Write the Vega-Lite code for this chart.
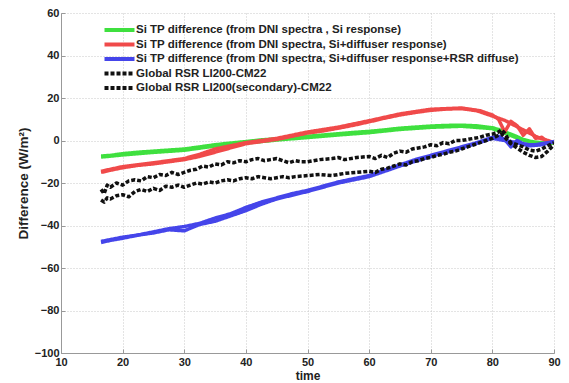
{
  "$schema": "https://vega.github.io/schema/vega-lite/v6.json",
  "width": 493,
  "height": 340,
  "autosize": {"type": "none"},
  "padding": {"left": 61, "top": 13, "right": 15, "bottom": 30},
  "background": "white",
  "config": {
    "view": {"stroke": null},
    "font": "Liberation Sans",
    "axis": {
      "labelFont": "Liberation Sans", "labelFontWeight": "bold", "labelFontSize": 11, "labelColor": "#222",
      "titleFont": "Liberation Sans", "titleFontWeight": "bold", "titleFontSize": 12, "titleColor": "#222",
      "domainColor": "#999", "tickColor": "#999", "tickSize": -4,
      "gridColor": "#c8c8c8", "gridDash": [1, 2], "gridWidth": 1
    },
    "legend": {
      "labelFont": "Liberation Sans", "labelFontWeight": "bold", "labelFontSize": 11.5, "labelColor": "#222"
    }
  },
  "data": {
    "values": [
      {"s":"a","b":1,"x":16.5,"y":-7.3},{"s":"a","b":1,"x":18,"y":-7},{"s":"a","b":1,"x":20,"y":-6.2},{"s":"a","b":1,"x":22.5,"y":-5.5},{"s":"a","b":1,"x":25,"y":-5},{"s":"a","b":1,"x":27.5,"y":-4.5},{"s":"a","b":1,"x":30,"y":-4},{"s":"a","b":1,"x":32.5,"y":-3},{"s":"a","b":1,"x":35,"y":-2},{"s":"a","b":1,"x":37.5,"y":-1.2},{"s":"a","b":1,"x":40,"y":-0.5},{"s":"a","b":1,"x":42.5,"y":0.3},{"s":"a","b":1,"x":45,"y":0.8},{"s":"a","b":1,"x":47.5,"y":1.5},{"s":"a","b":1,"x":50,"y":2},{"s":"a","b":1,"x":52.5,"y":2.6},{"s":"a","b":1,"x":55,"y":3.2},{"s":"a","b":1,"x":57.5,"y":3.8},{"s":"a","b":1,"x":60,"y":4.3},{"s":"a","b":1,"x":62.5,"y":5},{"s":"a","b":1,"x":65,"y":5.8},{"s":"a","b":1,"x":67.5,"y":6.3},{"s":"a","b":1,"x":70,"y":6.8},{"s":"a","b":1,"x":72.5,"y":7.1},{"s":"a","b":1,"x":75,"y":7.2},{"s":"a","b":1,"x":77.5,"y":6.9},{"s":"a","b":1,"x":80,"y":6},{"s":"a","b":1,"x":81,"y":5.2},{"s":"a","b":1,"x":82,"y":4},{"s":"a","b":1,"x":83,"y":3},{"s":"a","b":1,"x":84,"y":1.8},{"s":"a","b":1,"x":85,"y":0.5},{"s":"a","b":1,"x":86,"y":-0.3},{"s":"a","b":1,"x":87,"y":-0.8},{"s":"a","b":1,"x":88,"y":-1},{"s":"a","b":1,"x":89,"y":-1.2},{"s":"a","b":1,"x":90,"y":-1.2},
      {"s":"a","b":2,"x":16.5,"y":-7.8},{"s":"a","b":2,"x":20,"y":-6.8},{"s":"a","b":2,"x":25,"y":-5.6},{"s":"a","b":2,"x":30,"y":-4.6},{"s":"a","b":2,"x":35,"y":-2.6},{"s":"a","b":2,"x":40,"y":-1.2},{"s":"a","b":2,"x":45,"y":0.2},{"s":"a","b":2,"x":50,"y":1.4},{"s":"a","b":2,"x":55,"y":2.6},{"s":"a","b":2,"x":60,"y":3.7},{"s":"a","b":2,"x":65,"y":5.2},{"s":"a","b":2,"x":70,"y":6.2},{"s":"a","b":2,"x":75,"y":6.7},{"s":"a","b":2,"x":80,"y":5.6},{"s":"a","b":2,"x":82,"y":3.5},{"s":"a","b":2,"x":84,"y":1.2},{"s":"a","b":2,"x":86,"y":-0.6},{"s":"a","b":2,"x":88,"y":-1.3},{"s":"a","b":2,"x":90,"y":-1.2},
      {"s":"b","b":1,"x":16.5,"y":-15},{"s":"b","b":1,"x":18,"y":-14},{"s":"b","b":1,"x":20,"y":-12.8},{"s":"b","b":1,"x":22.5,"y":-11.7},{"s":"b","b":1,"x":25,"y":-11},{"s":"b","b":1,"x":27.5,"y":-10},{"s":"b","b":1,"x":30,"y":-9},{"s":"b","b":1,"x":32.5,"y":-7.5},{"s":"b","b":1,"x":35,"y":-5.5},{"s":"b","b":1,"x":37.5,"y":-3.5},{"s":"b","b":1,"x":40,"y":-1.5},{"s":"b","b":1,"x":42.5,"y":-0.5},{"s":"b","b":1,"x":45,"y":0.5},{"s":"b","b":1,"x":47.5,"y":2},{"s":"b","b":1,"x":50,"y":3.5},{"s":"b","b":1,"x":52.5,"y":4.5},{"s":"b","b":1,"x":55,"y":5.8},{"s":"b","b":1,"x":57.5,"y":7.2},{"s":"b","b":1,"x":60,"y":8.8},{"s":"b","b":1,"x":62.5,"y":10.5},{"s":"b","b":1,"x":65,"y":12},{"s":"b","b":1,"x":67.5,"y":13.2},{"s":"b","b":1,"x":70,"y":14.2},{"s":"b","b":1,"x":72.5,"y":14.8},{"s":"b","b":1,"x":75,"y":15},{"s":"b","b":1,"x":77.5,"y":14},{"s":"b","b":1,"x":80,"y":11.5},{"s":"b","b":1,"x":81,"y":10.5},{"s":"b","b":1,"x":82,"y":9.5},{"s":"b","b":1,"x":83,"y":8},{"s":"b","b":1,"x":84,"y":6.5},{"s":"b","b":1,"x":85,"y":5},{"s":"b","b":1,"x":86,"y":3.5},{"s":"b","b":1,"x":87,"y":2},{"s":"b","b":1,"x":88,"y":0.8},{"s":"b","b":1,"x":89,"y":0},{"s":"b","b":1,"x":90,"y":-1},
      {"s":"b","b":2,"x":16.5,"y":-14.5},{"s":"b","b":2,"x":20,"y":-12.3},{"s":"b","b":2,"x":25,"y":-10.5},{"s":"b","b":2,"x":30,"y":-8.5},{"s":"b","b":2,"x":32.5,"y":-6.5},{"s":"b","b":2,"x":35,"y":-4},{"s":"b","b":2,"x":37.5,"y":-2.5},{"s":"b","b":2,"x":40,"y":-1},{"s":"b","b":2,"x":45,"y":1},{"s":"b","b":2,"x":50,"y":4},{"s":"b","b":2,"x":55,"y":6.3},{"s":"b","b":2,"x":60,"y":9.3},{"s":"b","b":2,"x":65,"y":12.5},{"s":"b","b":2,"x":70,"y":14.7},{"s":"b","b":2,"x":75,"y":15.3},{"s":"b","b":2,"x":78,"y":14},{"s":"b","b":2,"x":80,"y":12},{"s":"b","b":2,"x":81,"y":10},{"s":"b","b":2,"x":82,"y":4},{"s":"b","b":2,"x":83,"y":9},{"s":"b","b":2,"x":84,"y":7},{"s":"b","b":2,"x":85,"y":2.5},{"s":"b","b":2,"x":86,"y":5.5},{"s":"b","b":2,"x":87,"y":1},{"s":"b","b":2,"x":88,"y":1.5},{"s":"b","b":2,"x":89,"y":-0.5},{"s":"b","b":2,"x":90,"y":-1},
      {"s":"c","b":1,"x":16.5,"y":-48},{"s":"c","b":1,"x":18,"y":-47},{"s":"c","b":1,"x":20,"y":-46},{"s":"c","b":1,"x":22.5,"y":-44.5},{"s":"c","b":1,"x":25,"y":-43},{"s":"c","b":1,"x":27.5,"y":-41.5},{"s":"c","b":1,"x":30,"y":-40.5},{"s":"c","b":1,"x":32.5,"y":-39},{"s":"c","b":1,"x":35,"y":-36.5},{"s":"c","b":1,"x":37.5,"y":-34.5},{"s":"c","b":1,"x":40,"y":-31.5},{"s":"c","b":1,"x":42.5,"y":-29},{"s":"c","b":1,"x":45,"y":-27},{"s":"c","b":1,"x":47.5,"y":-25},{"s":"c","b":1,"x":50,"y":-23.5},{"s":"c","b":1,"x":52.5,"y":-21.5},{"s":"c","b":1,"x":55,"y":-19.5},{"s":"c","b":1,"x":57.5,"y":-18},{"s":"c","b":1,"x":60,"y":-16.5},{"s":"c","b":1,"x":62.5,"y":-14},{"s":"c","b":1,"x":65,"y":-11.5},{"s":"c","b":1,"x":67.5,"y":-9},{"s":"c","b":1,"x":70,"y":-7},{"s":"c","b":1,"x":72.5,"y":-5},{"s":"c","b":1,"x":75,"y":-3},{"s":"c","b":1,"x":77.5,"y":-1},{"s":"c","b":1,"x":80,"y":1.5},{"s":"c","b":1,"x":81,"y":2},{"s":"c","b":1,"x":82,"y":0.5},{"s":"c","b":1,"x":83,"y":-3},{"s":"c","b":1,"x":84,"y":0},{"s":"c","b":1,"x":85,"y":-1.5},{"s":"c","b":1,"x":86,"y":-2},{"s":"c","b":1,"x":87,"y":-2},{"s":"c","b":1,"x":88,"y":-1.5},{"s":"c","b":1,"x":89,"y":-1},{"s":"c","b":1,"x":90,"y":-0.5},
      {"s":"c","b":2,"x":16.5,"y":-47.5},{"s":"c","b":2,"x":20,"y":-45.5},{"s":"c","b":2,"x":25,"y":-43.5},{"s":"c","b":2,"x":27.5,"y":-42},{"s":"c","b":2,"x":30,"y":-42.5},{"s":"c","b":2,"x":32.5,"y":-39.5},{"s":"c","b":2,"x":35,"y":-38},{"s":"c","b":2,"x":37.5,"y":-35.5},{"s":"c","b":2,"x":40,"y":-33},{"s":"c","b":2,"x":42.5,"y":-30},{"s":"c","b":2,"x":45,"y":-27.5},{"s":"c","b":2,"x":50,"y":-24},{"s":"c","b":2,"x":55,"y":-20},{"s":"c","b":2,"x":60,"y":-17},{"s":"c","b":2,"x":65,"y":-12},{"s":"c","b":2,"x":70,"y":-7.5},{"s":"c","b":2,"x":75,"y":-3.5},{"s":"c","b":2,"x":80,"y":1},{"s":"c","b":2,"x":82,"y":0},{"s":"c","b":2,"x":84,"y":-1},{"s":"c","b":2,"x":86,"y":-2.5},{"s":"c","b":2,"x":88,"y":-2},{"s":"c","b":2,"x":90,"y":-0.5},
      {"s":"d","b":1,"x":16.5,"y":-23},{"s":"d","b":1,"x":17,"y":-25},{"s":"d","b":1,"x":17.5,"y":-21},{"s":"d","b":1,"x":18,"y":-22},{"s":"d","b":1,"x":19,"y":-20},{"s":"d","b":1,"x":20,"y":-21},{"s":"d","b":1,"x":21,"y":-19},{"s":"d","b":1,"x":22,"y":-18.5},{"s":"d","b":1,"x":23,"y":-19},{"s":"d","b":1,"x":24,"y":-17},{"s":"d","b":1,"x":25,"y":-17.5},{"s":"d","b":1,"x":26,"y":-16},{"s":"d","b":1,"x":27,"y":-16.5},{"s":"d","b":1,"x":28,"y":-15},{"s":"d","b":1,"x":29,"y":-16},{"s":"d","b":1,"x":30,"y":-15},{"s":"d","b":1,"x":31,"y":-14},{"s":"d","b":1,"x":32,"y":-13.5},{"s":"d","b":1,"x":33,"y":-12},{"s":"d","b":1,"x":34,"y":-12.5},{"s":"d","b":1,"x":35,"y":-11},{"s":"d","b":1,"x":36,"y":-11.5},{"s":"d","b":1,"x":37,"y":-10},{"s":"d","b":1,"x":38,"y":-10.5},{"s":"d","b":1,"x":39,"y":-9.5},{"s":"d","b":1,"x":40,"y":-10},{"s":"d","b":1,"x":41,"y":-9},{"s":"d","b":1,"x":42,"y":-8.5},{"s":"d","b":1,"x":43,"y":-9.5},{"s":"d","b":1,"x":44,"y":-9},{"s":"d","b":1,"x":45,"y":-8.5},{"s":"d","b":1,"x":46,"y":-9.5},{"s":"d","b":1,"x":47,"y":-10.5},{"s":"d","b":1,"x":48,"y":-9.5},{"s":"d","b":1,"x":49,"y":-10},{"s":"d","b":1,"x":50,"y":-10},{"s":"d","b":1,"x":52,"y":-9},{"s":"d","b":1,"x":54,"y":-8.5},{"s":"d","b":1,"x":55,"y":-8},{"s":"d","b":1,"x":56,"y":-9},{"s":"d","b":1,"x":58,"y":-8},{"s":"d","b":1,"x":60,"y":-7.5},{"s":"d","b":1,"x":61,"y":-8.5},{"s":"d","b":1,"x":62,"y":-7},{"s":"d","b":1,"x":63,"y":-8},{"s":"d","b":1,"x":64,"y":-6},{"s":"d","b":1,"x":65,"y":-5},{"s":"d","b":1,"x":66,"y":-5.5},{"s":"d","b":1,"x":67,"y":-4},{"s":"d","b":1,"x":68,"y":-3.5},{"s":"d","b":1,"x":69,"y":-3},{"s":"d","b":1,"x":70,"y":-2},{"s":"d","b":1,"x":71,"y":-2.5},{"s":"d","b":1,"x":72,"y":-1},{"s":"d","b":1,"x":73,"y":-1.5},{"s":"d","b":1,"x":74,"y":0},{"s":"d","b":1,"x":75,"y":0},{"s":"d","b":1,"x":76,"y":0.5},{"s":"d","b":1,"x":77,"y":1},{"s":"d","b":1,"x":78,"y":1.5},{"s":"d","b":1,"x":79,"y":2.5},{"s":"d","b":1,"x":80,"y":3},{"s":"d","b":1,"x":81,"y":4},{"s":"d","b":1,"x":81.5,"y":5},{"s":"d","b":1,"x":82,"y":3.5},{"s":"d","b":1,"x":82.5,"y":1},{"s":"d","b":1,"x":83,"y":-1},{"s":"d","b":1,"x":84,"y":-2},{"s":"d","b":1,"x":85,"y":-3},{"s":"d","b":1,"x":86,"y":-4.5},{"s":"d","b":1,"x":87,"y":-5},{"s":"d","b":1,"x":88,"y":-4},{"s":"d","b":1,"x":89,"y":-2.5},{"s":"d","b":1,"x":90,"y":-1},
      {"s":"e","b":1,"x":16.5,"y":-28},{"s":"e","b":1,"x":17,"y":-29},{"s":"e","b":1,"x":17.5,"y":-27},{"s":"e","b":1,"x":18,"y":-27.5},{"s":"e","b":1,"x":19,"y":-26},{"s":"e","b":1,"x":20,"y":-25.5},{"s":"e","b":1,"x":21,"y":-26.5},{"s":"e","b":1,"x":22,"y":-24},{"s":"e","b":1,"x":23,"y":-23},{"s":"e","b":1,"x":24,"y":-24},{"s":"e","b":1,"x":25,"y":-22.5},{"s":"e","b":1,"x":26,"y":-23.5},{"s":"e","b":1,"x":27,"y":-21.5},{"s":"e","b":1,"x":28,"y":-22},{"s":"e","b":1,"x":29,"y":-21},{"s":"e","b":1,"x":30,"y":-22},{"s":"e","b":1,"x":31,"y":-21},{"s":"e","b":1,"x":32,"y":-20},{"s":"e","b":1,"x":33,"y":-20.5},{"s":"e","b":1,"x":34,"y":-19.5},{"s":"e","b":1,"x":35,"y":-20},{"s":"e","b":1,"x":36,"y":-19},{"s":"e","b":1,"x":37,"y":-18.5},{"s":"e","b":1,"x":38,"y":-19},{"s":"e","b":1,"x":39,"y":-18},{"s":"e","b":1,"x":40,"y":-17.5},{"s":"e","b":1,"x":41,"y":-18},{"s":"e","b":1,"x":42,"y":-17},{"s":"e","b":1,"x":43,"y":-17.5},{"s":"e","b":1,"x":44,"y":-18},{"s":"e","b":1,"x":45,"y":-17.5},{"s":"e","b":1,"x":46,"y":-17},{"s":"e","b":1,"x":47,"y":-17.5},{"s":"e","b":1,"x":48,"y":-17},{"s":"e","b":1,"x":50,"y":-16.5},{"s":"e","b":1,"x":52,"y":-16},{"s":"e","b":1,"x":54,"y":-16.5},{"s":"e","b":1,"x":55,"y":-16},{"s":"e","b":1,"x":56,"y":-15.5},{"s":"e","b":1,"x":58,"y":-15},{"s":"e","b":1,"x":60,"y":-14.5},{"s":"e","b":1,"x":61,"y":-15},{"s":"e","b":1,"x":62,"y":-13.5},{"s":"e","b":1,"x":63,"y":-13},{"s":"e","b":1,"x":64,"y":-12},{"s":"e","b":1,"x":65,"y":-11},{"s":"e","b":1,"x":66,"y":-11.5},{"s":"e","b":1,"x":67,"y":-10},{"s":"e","b":1,"x":68,"y":-9.5},{"s":"e","b":1,"x":69,"y":-8.5},{"s":"e","b":1,"x":70,"y":-8},{"s":"e","b":1,"x":71,"y":-7},{"s":"e","b":1,"x":72,"y":-6.5},{"s":"e","b":1,"x":73,"y":-5.5},{"s":"e","b":1,"x":74,"y":-5},{"s":"e","b":1,"x":75,"y":-4},{"s":"e","b":1,"x":76,"y":-3},{"s":"e","b":1,"x":77,"y":-2},{"s":"e","b":1,"x":78,"y":-1},{"s":"e","b":1,"x":79,"y":0},{"s":"e","b":1,"x":80,"y":1},{"s":"e","b":1,"x":81,"y":2.5},{"s":"e","b":1,"x":81.5,"y":3},{"s":"e","b":1,"x":82,"y":1.5},{"s":"e","b":1,"x":83,"y":-1.5},{"s":"e","b":1,"x":84,"y":-3.5},{"s":"e","b":1,"x":85,"y":-5.5},{"s":"e","b":1,"x":86,"y":-7},{"s":"e","b":1,"x":87,"y":-8},{"s":"e","b":1,"x":88,"y":-7.5},{"s":"e","b":1,"x":89,"y":-5},{"s":"e","b":1,"x":90,"y":-2}
    ]
  },
  "mark": {"type": "line", "strokeWidth": 3.5, "strokeCap": "butt", "strokeJoin": "round", "clip": true},
  "encoding": {
    "x": {
      "field": "x", "type": "quantitative", "title": "time",
      "scale": {"domain": [10, 90], "nice": false, "zero": false},
      "axis": {"values": [10,20,30,40,50,60,70,80,90], "grid": true, "labelPadding": 7, "titlePadding": 3, "labelFlush": false}
    },
    "y": {
      "field": "y", "type": "quantitative", "title": "Difference (W/m²)",
      "scale": {"domain": [-100, 60], "nice": false, "zero": false},
      "axis": {"values": [-100,-80,-60,-40,-20,0,20,40,60], "grid": true, "labelPadding": 6, "titlePadding": 4, "titleFontSize": 13.5}
    },
    "color": {
      "field": "s", "type": "nominal", "title": null,
      "scale": {"domain": ["a","b","c","d","e"], "range": ["#3fe03f", "#f04a4a", "#4545ea", "#111111", "#111111"]},
      "legend": {
        "orient": "none", "legendX": 52.5, "legendY": 11,
        "symbolType": "M-3.75,0L3.75,0", "symbolSize": 64, "symbolStrokeWidth": 4, "rowPadding": -1.5,
        "labelOffset": 10.5, "labelLimit": 0,
        "labelExpr": "{'a':'Si TP difference (from DNI spectra , Si response)','b':'Si TP difference (from DNI spectra, Si+diffuser response)','c':'Si TP difference (from DNI spectra, Si+diffuser response+RSR diffuse)','d':'Global RSR LI200-CM22','e':'Global RSR LI200(secondary)-CM22'}[datum.label]"
      }
    },
    "strokeDash": {
      "field": "s", "type": "nominal", "title": null,
      "scale": {"domain": ["a","b","c","d","e"], "range": [[1,0],[1,0],[1,0],[4,2],[4,2]]}
    },
    "detail": {"field": "b", "type": "nominal"}
  }
}
